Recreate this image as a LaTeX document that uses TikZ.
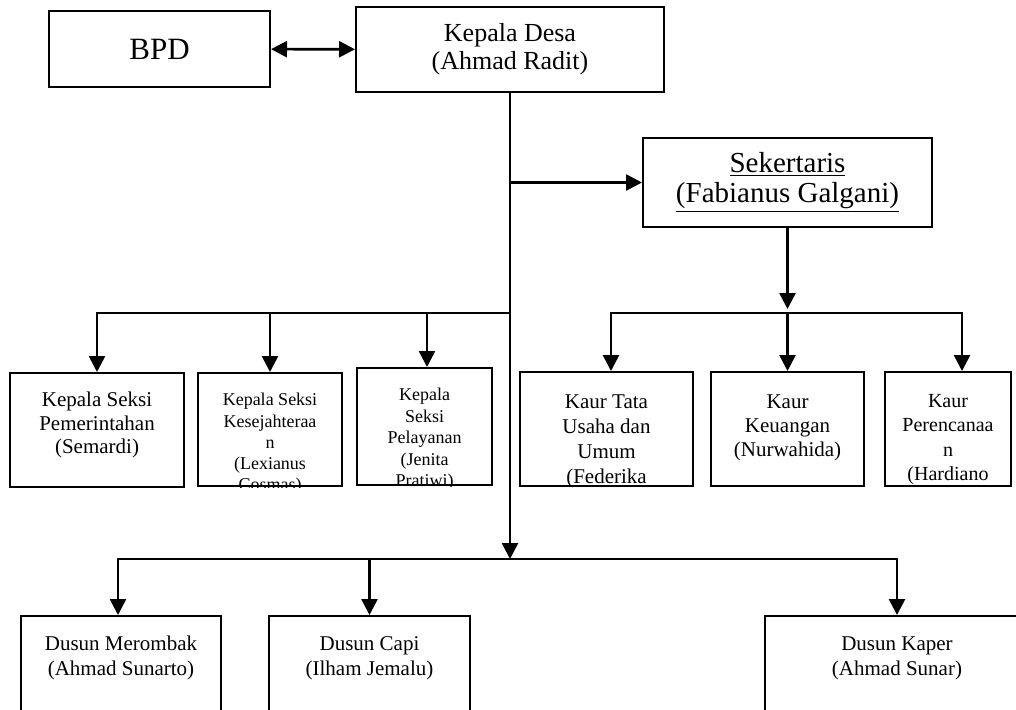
\documentclass[tikz,border=0pt]{standalone}
\usepackage{fontspec}
\setmainfont{Liberation Serif}
\usetikzlibrary{arrows.meta, calc, positioning}
\newcommand{\fsize}[2]{\fontsize{#1}{#2}\selectfont}
% text hung from the top of a box, cut off at its border
\newcommand{\boxlabel}[4]{%
    \begin{scope}
        \clip (#1.south west) rectangle (#1.north east);
        \node[anchor=north, align=center, inner sep=0pt, font=#2] (#1-text) at ($(#1.north)+(0,#3)$) {#4};
    \end{scope}}

\begin{document}
\begin{tikzpicture}[x=0.5pt, y=-0.5pt, >={Triangle[length=8pt, width=8pt]},
    box/.style={draw, line width=1pt, inner sep=0pt, align=center},
    link/.style={line width=1.3pt, ->}]
    % Page frame
    \clip (0,0) rectangle (1016,709);

    % Top level
    \node[box, minimum width=110.5pt, minimum height=38pt, font=\fsize{15.5}{18}] (bpd) at (159.5,49) {BPD};
    \node[box, minimum width=154pt, minimum height=42.5pt, font=\fsize{13}{14}] (kades) at (510,49.5)
        {Kepala Desa\\(Ahmad Radit)};
    \node[box, minimum width=144.5pt, minimum height=44.5pt, font=\fsize{14.5}{15}] (sek) at (787.5,182.5)
        {\underline{Sekertaris}\\\underline{(Fabianus Galgani)}};

    % Kepala seksi
    \node[box, minimum width=87pt, minimum height=57pt] (kasi1) at (97,430) {};
    \node[box, minimum width=72pt, minimum height=56.5pt] (kasi2) at (270,429.5) {};
    \node[box, minimum width=67.5pt, minimum height=58.5pt] (kasi3) at (424.5,426.5) {};
    \boxlabel{kasi1}{\fsize{10.5}{11.75}}{20}{Kepala Seksi\\Pemerintahan\\(Semardi)}
    \boxlabel{kasi2}{\fsize{9}{10.6}}{21}{Kepala Seksi\\Kesejahteraa\\n\\(Lexianus\\Cosmas)}
    \boxlabel{kasi3}{\fsize{9}{10.75}}{21}{Kepala\\Seksi\\Pelayanan\\(Jenita\\Pratiwi)}

    % Kaur
    \node[box, minimum width=86.5pt, minimum height=57pt] (kaur1) at (606.5,429) {};
    \node[box, minimum width=76.5pt, minimum height=57pt] (kaur2) at (787.5,429) {};
    \node[box, minimum width=63pt, minimum height=57pt] (kaur3) at (948,429) {};
    \boxlabel{kaur1}{\fsize{10.5}{12.5}}{23}{Kaur Tata\\Usaha dan\\Umum\\(Federika}
    \boxlabel{kaur2}{\fsize{10.5}{12.2}}{23}{Kaur\\Keuangan\\(Nurwahida)}
    \boxlabel{kaur3}{\fsize{10}{12.2}}{23}{Kaur\\Perencanaa\\n\\(Hardiano}

    % Dusun
    \node[box, minimum width=100pt, minimum height=62pt] (dusun1) at (121,678) {};
    \node[box, minimum width=100.5pt, minimum height=62pt] (dusun2) at (369.5,678) {};
    \node[box, minimum width=132pt, minimum height=62pt] (dusun3) at (897,678) {};
    \boxlabel{dusun1}{\fsize{10.5}{12.5}}{21}{Dusun Merombak\\(Ahmad Sunarto)}
    \boxlabel{dusun2}{\fsize{10.5}{12.5}}{21}{Dusun Capi\\(Ilham Jemalu)}
    \boxlabel{dusun3}{\fsize{10.5}{12.5}}{21}{Dusun Kaper\\(Ahmad Sunar)}

    % Junctions
    \coordinate (j1) at (kades.south |- sek.west);
    \coordinate (j2) at (510,313);
    \coordinate (j3) at (510,559);
    \coordinate (j4) at (sek.south |- j2);

    % Connectors
    \draw[line width=1.3pt, <->] (bpd) -- (kades);
    \draw[link] (kades.south) -- (j3);
    \draw[link] (j1) -- (sek.west);
    \draw[link, shorten >=2pt] (sek.south) -- (j4);
    \draw[link] (j2) -| (kasi1.north);
    \draw[link] (j2) -| (kasi2.north);
    \draw[link] (j2) -| ($(kasi3.north)+(2.5,0)$);
    \draw[link] (j4) -| ($(kaur1.north)+(4.5,0)$);
    \draw[link] (j4) -- (kaur2.north);
    \draw[link] (j4) -| ($(kaur3.north)+(14,0)$);
    \draw[link] (j3) -| ($(dusun1.north)+(-3,0)$);
    \draw[link] (j3) -| (dusun2.north);
    \draw[link] (j3) -| (dusun3.north);
\end{tikzpicture}
\end{document}
